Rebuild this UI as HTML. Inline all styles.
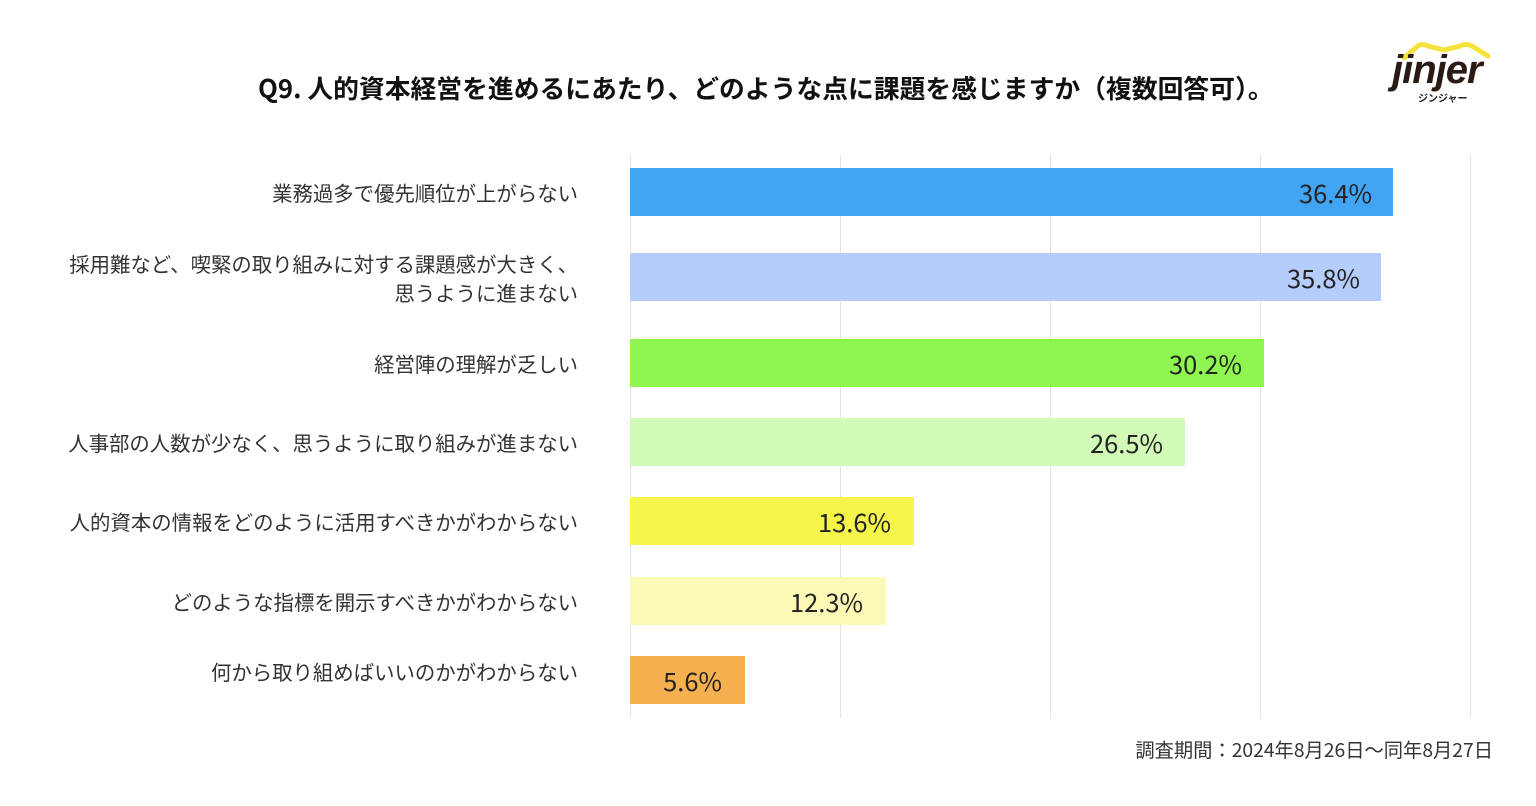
<!DOCTYPE html>
<html><head><meta charset="utf-8"><style>
body{margin:0;width:1536px;height:806px;background:#fff;position:relative;overflow:hidden;font-family:"Noto Sans CJK JP","Liberation Sans",sans-serif;color:#222}
.t{position:absolute;white-space:nowrap}
.g{position:absolute;top:155px;height:563px;width:1px;background:#e2e2e2}
.bar{position:absolute;left:630px;height:48px}
.v{position:absolute;font-size:25.5px;color:#222;line-height:48px}
.lab{position:absolute;right:958px;font-size:20.4px;text-align:right;line-height:29px;color:#333;white-space:nowrap}
</style></head><body>
<div class="t" style="left:258px;top:70px;font-size:25.8px;font-weight:bold;color:#111;line-height:36px">Q9. 人的資本経営を進めるにあたり、どのような点に課題を感じますか（複数回答可）。</div>
<svg style="position:absolute;left:1398px;top:40px" width="100" height="22"><path d="M6 18 L20 6 Q24 3 30 6 L46 10 L62 6 Q68 3 74 6 L90 16" stroke="#f5e23a" stroke-width="5" fill="none" stroke-linecap="round"/></svg>
<div class="t" style="left:1392px;top:48px;font-size:40px;font-weight:bold;font-style:italic;color:#2a1a14;letter-spacing:-1px;font-family:'Liberation Sans',sans-serif">jinjer</div>
<div class="t" style="left:1418px;top:90px;font-size:10px;font-weight:bold;color:#222">ジンジャー</div>
<div class="g" style="left:630px"></div><div class="g" style="left:840px"></div><div class="g" style="left:1050px"></div><div class="g" style="left:1260px"></div><div class="g" style="left:1470px"></div>
<div class="bar" style="top:168px;width:763px;background:#42a4f5"></div><div class="v" style="top:169px;right:164px">36.4%</div>
<div class="bar" style="top:253px;width:751px;background:#b4cdfc"></div><div class="v" style="top:254px;right:176px">35.8%</div>
<div class="bar" style="top:339px;width:634px;background:#8ff651"></div><div class="v" style="top:340px;right:294px">30.2%</div>
<div class="bar" style="top:418px;width:555px;background:#d1fbb6"></div><div class="v" style="top:419px;right:373px">26.5%</div>
<div class="bar" style="top:497px;width:284px;background:#f5f44b"></div><div class="v" style="top:498px;right:645px">13.6%</div>
<div class="bar" style="top:577px;width:256px;background:#fcf9b6"></div><div class="v" style="top:578px;right:673px">12.3%</div>
<div class="bar" style="top:656px;width:115px;background:#f5b050"></div><div class="v" style="top:657px;right:814px">5.6%</div>
<div class="lab" style="top:178px">業務過多で優先順位が上がらない</div>
<div class="lab" style="top:249px">採用難など、喫緊の取り組みに対する課題感が大きく、<br>思うように進まない</div>
<div class="lab" style="top:349px">経営陣の理解が乏しい</div>
<div class="lab" style="top:428px">人事部の人数が少なく、思うように取り組みが進まない</div>
<div class="lab" style="top:507px">人的資本の情報をどのように活用すべきかがわからない</div>
<div class="lab" style="top:587px">どのような指標を開示すべきかがわからない</div>
<div class="lab" style="top:657px">何から取り組めばいいのかがわからない</div>
<div class="t" style="right:43px;top:735px;font-size:19.3px;color:#333;line-height:29px">調査期間：2024年8月26日〜同年8月27日</div>
</body></html>
